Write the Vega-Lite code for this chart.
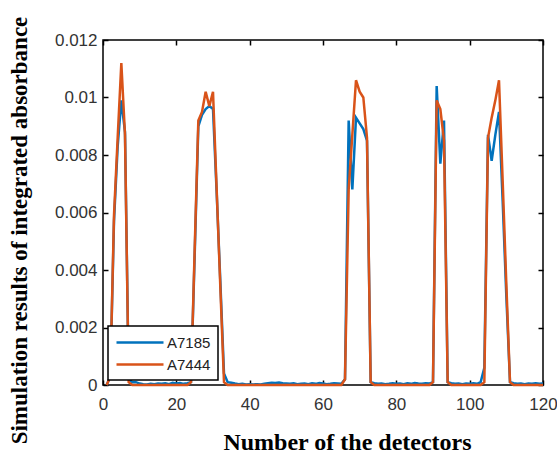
{
  "$schema": "https://vega.github.io/schema/vega-lite/v6.json",
  "width": 440,
  "height": 345,
  "autosize": "none",
  "padding": {"left": 103, "top": 40, "right": 14, "bottom": 75},
  "background": "white",
  "config": {
    "view": {"stroke": "#000", "strokeWidth": 1.5},
    "axis": {
      "domain": false,
      "grid": false,
      "labelFlush": false,
      "labelFont": "Liberation Sans",
      "labelFontSize": 17,
      "labelColor": "#333",
      "tickColor": "#000",
      "tickWidth": 1.5,
      "tickSize": 5,
      "offset": -5,
      "titleFont": "Liberation Serif",
      "titleFontWeight": "bold",
      "titleColor": "#000"
    },
    "legend": {
      "orient": "bottom-left",
      "offset": 5,
      "fillColor": "white",
      "strokeColor": "#000",
      "strokeWidth": 1.5,
      "padding": 7,
      "symbolType": "M-1,0H4.875",
      "symbolSize": 256,
      "symbolStrokeWidth": 2.5,
      "labelFont": "Liberation Sans",
      "labelFontSize": 15,
      "labelColor": "#222",
      "labelOffset": 33,
      "rowPadding": 4
    }
  },
  "data": {
    "values": [
      {"det": 1, "A7185": 0, "A7444": 0},
      {"det": 2, "A7185": 0.0003, "A7444": 0.0003},
      {"det": 3, "A7185": 0.0057, "A7444": 0.0059},
      {"det": 4, "A7185": 0.0083, "A7444": 0.0086},
      {"det": 5, "A7185": 0.0099, "A7444": 0.0112},
      {"det": 6, "A7185": 0.0088, "A7444": 0.0087},
      {"det": 7, "A7185": 0.0002, "A7444": 0.0001},
      {"det": 8, "A7185": 0.0001, "A7444": 0},
      {"det": 9, "A7185": 0.0001, "A7444": 0},
      {"det": 10, "A7185": 0.00005, "A7444": 0},
      {"det": 11, "A7185": 0.00003, "A7444": 0},
      {"det": 12, "A7185": 0.00002, "A7444": 0},
      {"det": 13, "A7185": 0.00004, "A7444": 0},
      {"det": 14, "A7185": 0.00003, "A7444": 0},
      {"det": 15, "A7185": 0.00005, "A7444": 0},
      {"det": 16, "A7185": 0.00004, "A7444": 0},
      {"det": 17, "A7185": 0.00006, "A7444": 0},
      {"det": 18, "A7185": 0.00003, "A7444": 0},
      {"det": 19, "A7185": 0.00008, "A7444": 0},
      {"det": 20, "A7185": 0.00005, "A7444": 0},
      {"det": 21, "A7185": 0.00007, "A7444": 0},
      {"det": 22, "A7185": 0.00004, "A7444": 0},
      {"det": 23, "A7185": 0.00006, "A7444": 0},
      {"det": 24, "A7185": 0.0001, "A7444": 0.0001},
      {"det": 25, "A7185": 0.0045, "A7444": 0.0047},
      {"det": 26, "A7185": 0.009, "A7444": 0.0092},
      {"det": 27, "A7185": 0.0094, "A7444": 0.0095},
      {"det": 28, "A7185": 0.0096, "A7444": 0.0102},
      {"det": 29, "A7185": 0.0097, "A7444": 0.0097},
      {"det": 30, "A7185": 0.0096, "A7444": 0.0102},
      {"det": 31, "A7185": 0.0067, "A7444": 0.0068},
      {"det": 32, "A7185": 0.0036, "A7444": 0.0034},
      {"det": 33, "A7185": 0.0004, "A7444": 0.0001},
      {"det": 34, "A7185": 0.0001, "A7444": 0},
      {"det": 35, "A7185": 0.00008, "A7444": 0},
      {"det": 36, "A7185": 0.00005, "A7444": 0},
      {"det": 37, "A7185": 0.00003, "A7444": 0},
      {"det": 38, "A7185": 0.00004, "A7444": 0},
      {"det": 39, "A7185": 0.00002, "A7444": 0},
      {"det": 40, "A7185": 0.00003, "A7444": 0},
      {"det": 41, "A7185": 0.00002, "A7444": 0},
      {"det": 42, "A7185": 0.00003, "A7444": 0},
      {"det": 43, "A7185": 0.00002, "A7444": 0},
      {"det": 44, "A7185": 0.00004, "A7444": 0},
      {"det": 45, "A7185": 0.00006, "A7444": 0},
      {"det": 46, "A7185": 0.00008, "A7444": 0},
      {"det": 47, "A7185": 0.00007, "A7444": 0},
      {"det": 48, "A7185": 0.00009, "A7444": 0},
      {"det": 49, "A7185": 0.00006, "A7444": 0},
      {"det": 50, "A7185": 0.00005, "A7444": 0},
      {"det": 51, "A7185": 0.00004, "A7444": 0},
      {"det": 52, "A7185": 0.00006, "A7444": 0},
      {"det": 53, "A7185": 0.00003, "A7444": 0},
      {"det": 54, "A7185": 0.00004, "A7444": 0},
      {"det": 55, "A7185": 0.00005, "A7444": 0},
      {"det": 56, "A7185": 0.00003, "A7444": 0},
      {"det": 57, "A7185": 0.00006, "A7444": 0},
      {"det": 58, "A7185": 0.00004, "A7444": 0},
      {"det": 59, "A7185": 0.00007, "A7444": 0},
      {"det": 60, "A7185": 0.00005, "A7444": 0},
      {"det": 61, "A7185": 0.00003, "A7444": 0},
      {"det": 62, "A7185": 0.00004, "A7444": 0},
      {"det": 63, "A7185": 0.00006, "A7444": 0},
      {"det": 64, "A7185": 0.00005, "A7444": 0},
      {"det": 65, "A7185": 0.00004, "A7444": 0},
      {"det": 66, "A7185": 0.0002, "A7444": 0.0002},
      {"det": 67, "A7185": 0.0092, "A7444": 0.0068},
      {"det": 68, "A7185": 0.0068, "A7444": 0.0087},
      {"det": 69, "A7185": 0.0093, "A7444": 0.0106},
      {"det": 70, "A7185": 0.0091, "A7444": 0.0102},
      {"det": 71, "A7185": 0.0089, "A7444": 0.01},
      {"det": 72, "A7185": 0.0085, "A7444": 0.0086},
      {"det": 73, "A7185": 0.0001, "A7444": 0.0001},
      {"det": 74, "A7185": 0.00006, "A7444": 0},
      {"det": 75, "A7185": 0.00004, "A7444": 0},
      {"det": 76, "A7185": 0.00005, "A7444": 0},
      {"det": 77, "A7185": 0.00003, "A7444": 0},
      {"det": 78, "A7185": 0.00004, "A7444": 0},
      {"det": 79, "A7185": 0.00006, "A7444": 0},
      {"det": 80, "A7185": 0.00004, "A7444": 0},
      {"det": 81, "A7185": 0.00005, "A7444": 0},
      {"det": 82, "A7185": 0.00003, "A7444": 0},
      {"det": 83, "A7185": 0.00006, "A7444": 0},
      {"det": 84, "A7185": 0.00004, "A7444": 0},
      {"det": 85, "A7185": 0.00007, "A7444": 0},
      {"det": 86, "A7185": 0.00005, "A7444": 0},
      {"det": 87, "A7185": 0.00004, "A7444": 0},
      {"det": 88, "A7185": 0.00006, "A7444": 0},
      {"det": 89, "A7185": 0.00005, "A7444": 0},
      {"det": 90, "A7185": 0.0001, "A7444": 0.0001},
      {"det": 91, "A7185": 0.0104, "A7444": 0.0099},
      {"det": 92, "A7185": 0.0077, "A7444": 0.0096},
      {"det": 93, "A7185": 0.0092, "A7444": 0.0085},
      {"det": 94, "A7185": 0.0001, "A7444": 0.0001},
      {"det": 95, "A7185": 0.00006, "A7444": 0},
      {"det": 96, "A7185": 0.00004, "A7444": 0},
      {"det": 97, "A7185": 0.00005, "A7444": 0},
      {"det": 98, "A7185": 0.00003, "A7444": 0},
      {"det": 99, "A7185": 0.00005, "A7444": 0},
      {"det": 100, "A7185": 0.00004, "A7444": 0},
      {"det": 101, "A7185": 0.00006, "A7444": 0},
      {"det": 102, "A7185": 0.00004, "A7444": 0},
      {"det": 103, "A7185": 0.0001, "A7444": 0},
      {"det": 104, "A7185": 0.0006, "A7444": 0.0001},
      {"det": 105, "A7185": 0.0087, "A7444": 0.0086},
      {"det": 106, "A7185": 0.0078, "A7444": 0.0093},
      {"det": 107, "A7185": 0.0087, "A7444": 0.0099},
      {"det": 108, "A7185": 0.0095, "A7444": 0.0106},
      {"det": 109, "A7185": 0.0064, "A7444": 0.0071},
      {"det": 110, "A7185": 0.0031, "A7444": 0.0035},
      {"det": 111, "A7185": 0.0001, "A7444": 0.0001},
      {"det": 112, "A7185": 0.00006, "A7444": 0},
      {"det": 113, "A7185": 0.00004, "A7444": 0},
      {"det": 114, "A7185": 0.00005, "A7444": 0},
      {"det": 115, "A7185": 0.00003, "A7444": 0},
      {"det": 116, "A7185": 0.00005, "A7444": 0},
      {"det": 117, "A7185": 0.00004, "A7444": 0},
      {"det": 118, "A7185": 0.00006, "A7444": 0},
      {"det": 119, "A7185": 0.00004, "A7444": 0},
      {"det": 120, "A7185": 0.00005, "A7444": 0}
    ]
  },
  "transform": [{"fold": ["A7185", "A7444"], "as": ["series", "value"]}],
  "layer": [
    {
      "transform": [{"filter": "datum.series === 'A7185'"}],
      "mark": {"type": "line", "strokeWidth": 2.5},
      "encoding": {
        "x": {
          "field": "det",
          "type": "quantitative",
          "scale": {"domain": [0, 120], "nice": false},
          "axis": {
            "values": [0, 20, 40, 60, 80, 100, 120],
            "title": "Number of the detectors",
            "titleFontSize": 24,
            "titleX": 244,
            "labelPadding": 11,
            "titlePadding": 18
          }
        },
        "y": {
          "field": "value",
          "type": "quantitative",
          "scale": {"domain": [0, 0.012], "nice": false},
          "axis": {
            "values": [0, 0.002, 0.004, 0.006, 0.008, 0.01, 0.012],
            "format": "~g",
            "title": "Simulation results of integrated absorbance",
            "titleFontSize": 23,
            "titleY": 190,
            "labelPadding": 6,
            "titlePadding": 23
          }
        },
        "color": {
          "field": "series",
          "type": "nominal",
          "scale": {"domain": ["A7185", "A7444"], "range": ["#0072BD", "#D95319"]},
          "legend": {"title": null}
        }
      }
    },
    {
      "transform": [{"filter": "datum.series === 'A7444'"}],
      "mark": {"type": "line", "strokeWidth": 2.5},
      "encoding": {
        "x": {
          "field": "det",
          "type": "quantitative",
          "scale": {"domain": [0, 120], "nice": false},
          "axis": {"orient": "top", "values": [0, 20, 40, 60, 80, 100, 120], "labels": false, "title": null}
        },
        "y": {
          "field": "value",
          "type": "quantitative",
          "scale": {"domain": [0, 0.012], "nice": false},
          "axis": {"orient": "right", "values": [0, 0.002, 0.004, 0.006, 0.008, 0.01, 0.012], "labels": false, "title": null}
        },
        "color": {
          "field": "series",
          "type": "nominal",
          "scale": {"domain": ["A7185", "A7444"], "range": ["#0072BD", "#D95319"]}
        }
      }
    }
  ],
  "resolve": {"axis": {"x": "independent", "y": "independent"}}
}
